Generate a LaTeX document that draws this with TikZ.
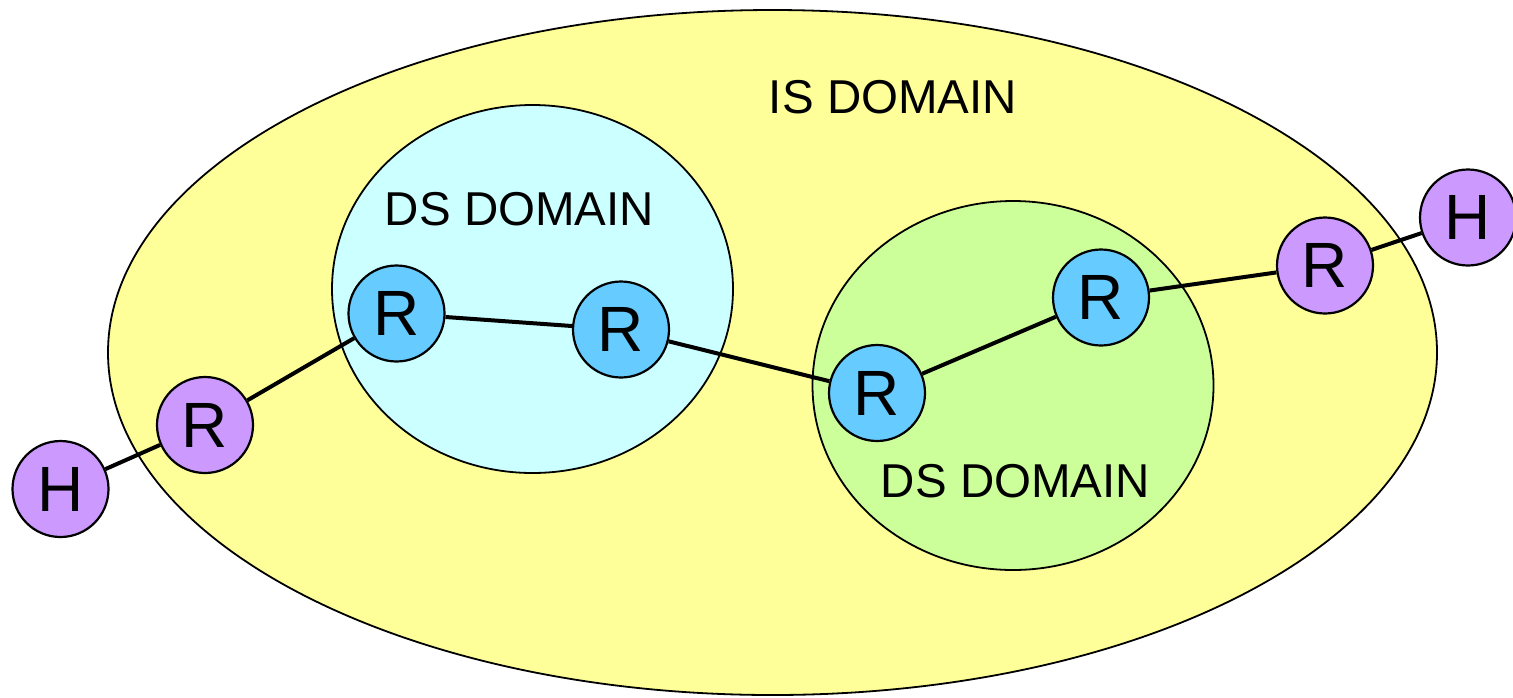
\documentclass[tikz,border=0pt]{standalone}
\usepackage{fontspec}
\setmainfont{Liberation Sans}
\definecolor{isyellow}{HTML}{FFFF99}
\definecolor{dscyan}{HTML}{CCFFFF}
\definecolor{dsgreen}{HTML}{CCFF99}
\definecolor{rblue}{HTML}{66CCFF}
\definecolor{hpurple}{HTML}{CC99FF}
\begin{document}
\begin{tikzpicture}[x=0.5pt,y=-0.5pt,
  domainshape/.style={draw=black,line width=0.9pt},
  dlabel/.style={font=\fontsize{23.75}{28}\selectfont,inner sep=0pt},
  router/.style={circle,draw=black,line width=1.1pt,fill=rblue,minimum size=48pt,inner sep=0pt,font=\fontsize{32}{38}\selectfont},
  edgeR/.style={circle,draw=black,line width=1.1pt,fill=hpurple,minimum size=48pt,inner sep=0pt,font=\fontsize{32}{38}\selectfont},
  link/.style={line width=2pt}]
\useasboundingbox (0,0) rectangle (1513,697);
\fill[white] (0,0) rectangle (1513,697);
% domains
\draw[domainshape,fill=isyellow] (772.5,352.5) ellipse [x radius=332.25pt, y radius=171.25pt];
\draw[domainshape,fill=dscyan] (532.5,289) ellipse [x radius=100.25pt, y radius=92pt];
\draw[domainshape,fill=dsgreen] (1013,385.5) ellipse [x radius=100.25pt, y radius=92.25pt];
\node[dlabel] (is) at (893,97) {IS DOMAIN};
\node[dlabel] (ds1) at (519.5,209) {DS DOMAIN};
\node[dlabel] (ds2) at (1015.5,481) {DS DOMAIN};
% nodes
\node[edgeR] (h1) at (60.5,489) {H};
\node[edgeR] (r1) at (205,425) {R};
\node[router] (r2) at (396.5,313.5) {R};
\node[router] (r3) at (621,329.5) {R};
\node[router] (r4) at (877,393) {R};
\node[router] (r5) at (1101,297.5) {R};
\node[edgeR] (r6) at (1325,265.5) {R};
\node[edgeR] (h2) at (1468,217.5) {H};
% links
\draw[link] (h1) -- (r1);
\draw[link] (r1) -- (r2);
\draw[link] (r2) -- (r3);
\draw[link] (r3) -- (r4);
\draw[link] (r4) -- (r5);
\draw[link] (r5) -- (r6);
\draw[link] (r6) -- (h2);
\end{tikzpicture}
\end{document}
